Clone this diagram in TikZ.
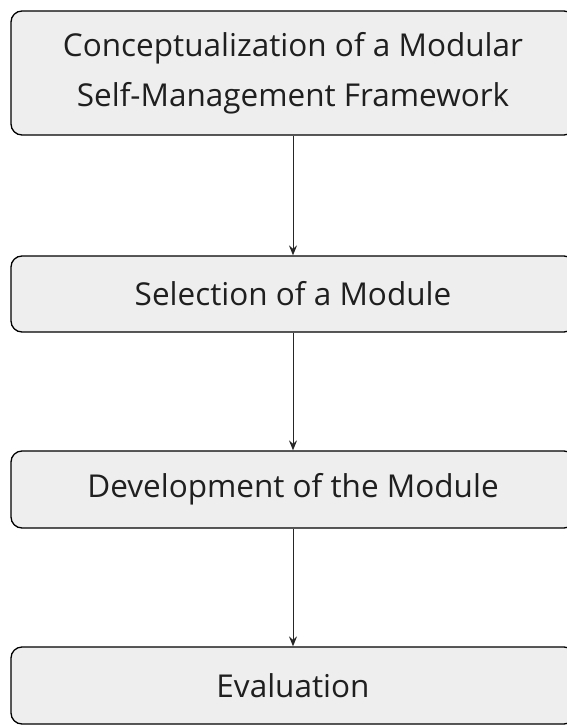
\documentclass[tikz,border=0pt]{standalone}
\usepackage{fontspec}
\setmainfont{Open Sans}
\usetikzlibrary{arrows.meta}
\begin{document}
\begin{tikzpicture}[x=1pt,y=-1pt,
  stagebox/.style={draw=black, line width=1.3pt, fill=stagefill, rounded corners=11pt,
    minimum width=564pt, inner sep=0pt, align=center,
    font=\fontsize{31.5}{50}\selectfont, text=black!88},
  flow/.style={draw=black!85, line width=1pt, -{Stealth[length=10pt,width=8pt,inset=3.5pt]}}]
  \definecolor{stagefill}{HTML}{EEEEEE}
  \useasboundingbox (0,0) rectangle (567,726);
  \node[stagebox, minimum height=124pt] (concept) at (293,73)
    {Conceptualization of a Modular\\Self-Management Framework};
  \node[stagebox, minimum height=76pt] (select) at (293,294) {Selection of a Module};
  \node[stagebox, minimum height=77pt] (develop) at (293,489.5) {Development of the Module};
  \node[stagebox, minimum height=77pt] (evaluate) at (293,685.5) {Evaluation};
  \draw[flow] (concept) -- (select);
  \draw[flow] (select) -- (develop);
  \draw[flow] (develop) -- (evaluate);
\end{tikzpicture}
\end{document}
